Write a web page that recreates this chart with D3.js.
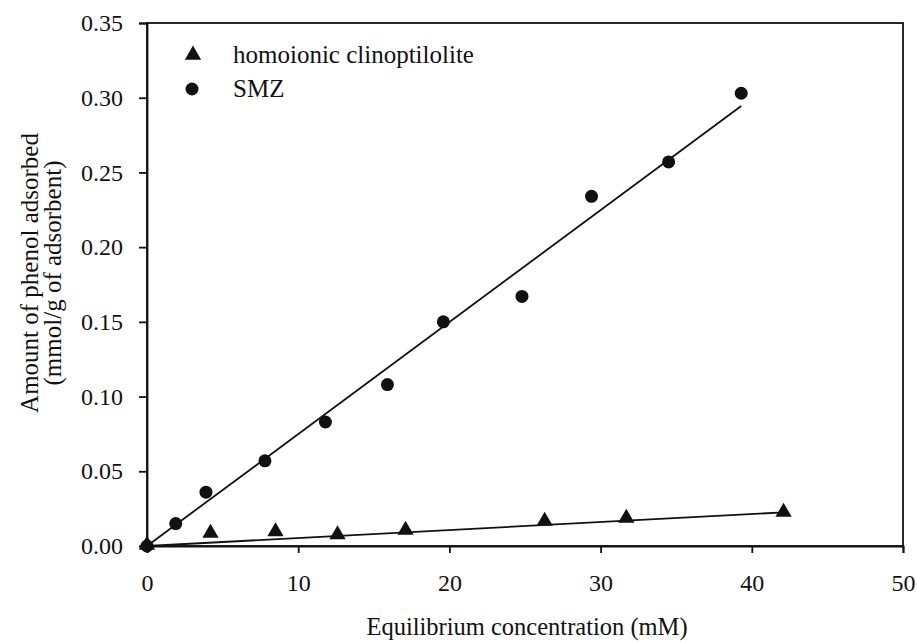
<!DOCTYPE html>
<html>
<head>
<meta charset="utf-8">
<script src="https://cdn.jsdelivr.net/npm/d3@7"></script>
<style>
  body { margin: 0; background: #fff; }
  svg { display: block; }
  text { font-family: "Liberation Serif", "Times New Roman", serif; fill: #111; }
</style>
</head>
<body>
<svg id="chart" width="917" height="642"></svg>
<script>
// Equilibrium concentration (mM) and phenol uptake (mmol/g)
const smzX = [0, 1.9, 3.9, 7.8, 11.8, 15.9, 19.6, 24.8, 29.4, 34.5, 39.3];
const smzY = [0, 0.015, 0.036, 0.057, 0.083, 0.108, 0.150, 0.167, 0.234, 0.257, 0.303];
const clinoX = [0, 4.2, 8.5, 12.6, 17.1, 26.3, 31.7, 42.1];
const clinoY = [0, 0.008, 0.009, 0.007, 0.010, 0.016, 0.018, 0.022];

// Linear fits (through origin)
const smzFit = [[0, 0], [39.3, 0.2945]];
const clinoFit = [[0, 0], [42.1, 0.0225]];

const xTicks = [0, 10, 20, 30, 40, 50];
const yTicks = [0, 0.05, 0.10, 0.15, 0.20, 0.25, 0.30, 0.35];

const legendNames = ["homoionic clinoptilolite", "SMZ"];

const svg = d3.select("#chart");
const L = 147, R = 903, T = 23, B = 546;

const x = d3.scaleLinear().domain([0, 50]).range([L, R]);
const y = d3.scaleLinear().domain([0, 0.35]).range([B, T]);

const ink = "#111";
const sw = 1.8;

// Frame
svg.append("rect")
  .attr("x", L).attr("y", T).attr("width", R - L).attr("height", B - T)
  .attr("fill", "none").attr("stroke", ink).attr("stroke-width", sw);

// Axes
const xAxis = svg.append("g").attr("transform", `translate(0,${B})`)
  .call(d3.axisBottom(x).tickValues(xTicks).tickFormat(d3.format("d")).tickSize(7).tickPadding(21));
const yAxis = svg.append("g").attr("transform", `translate(${L},0)`)
  .call(d3.axisLeft(y).tickValues(yTicks).tickFormat(d3.format(".2f")).tickSize(8).tickPadding(16));

[xAxis, yAxis].forEach(g => {
  g.select(".domain").attr("stroke", ink).attr("stroke-width", sw);
  g.selectAll(".tick line").attr("stroke", ink).attr("stroke-width", sw);
  g.selectAll(".tick text").attr("font-size", 24).attr("fill", ink)
    .style("font-family", "'Liberation Serif', serif");
});

// Axis titles
svg.append("text")
  .attr("x", 527).attr("y", 635)
  .attr("text-anchor", "middle").attr("font-size", 24.5)
  .text("Equilibrium concentration (mM)");

const yt = svg.append("text")
  .attr("transform", `translate(0,273) rotate(-90)`)
  .attr("text-anchor", "middle").attr("font-size", 25);
yt.append("tspan").attr("x", 0).attr("y", 38).text("Amount of phenol adsorbed");
yt.append("tspan").attr("x", 0).attr("y", 61).text("(mmol/g of adsorbent)");

// Fit lines
const line = d3.line().x(d => x(d[0])).y(d => y(d[1]));
[smzFit, clinoFit].forEach(f => {
  svg.append("path").attr("d", line(f))
    .attr("fill", "none").attr("stroke", ink).attr("stroke-width", sw);
});

const tri = d3.symbol().type(d3.symbolTriangle).size(115);

// SMZ points
svg.append("g").selectAll("circle")
  .data(d3.zip(smzX, smzY)).join("circle")
  .attr("cx", d => x(d[0])).attr("cy", d => y(d[1]))
  .attr("r", 6.5).attr("fill", ink);

// Clinoptilolite points
svg.append("g").selectAll("path")
  .data(d3.zip(clinoX, clinoY)).join("path")
  .attr("d", tri)
  .attr("transform", d => `translate(${x(d[0])},${y(d[1]) - 1})`)
  .attr("fill", ink);

// Legend
const lg = svg.append("g");
lg.append("path").attr("d", tri).attr("transform", "translate(193,55)").attr("fill", ink);
lg.append("circle").attr("cx", 192).attr("cy", 89).attr("r", 6.5).attr("fill", ink);
lg.append("text").attr("x", 233).attr("y", 63).attr("font-size", 25).text(legendNames[0]);
lg.append("text").attr("x", 233).attr("y", 97).attr("font-size", 25).text(legendNames[1]);
</script>
</body>
</html>
